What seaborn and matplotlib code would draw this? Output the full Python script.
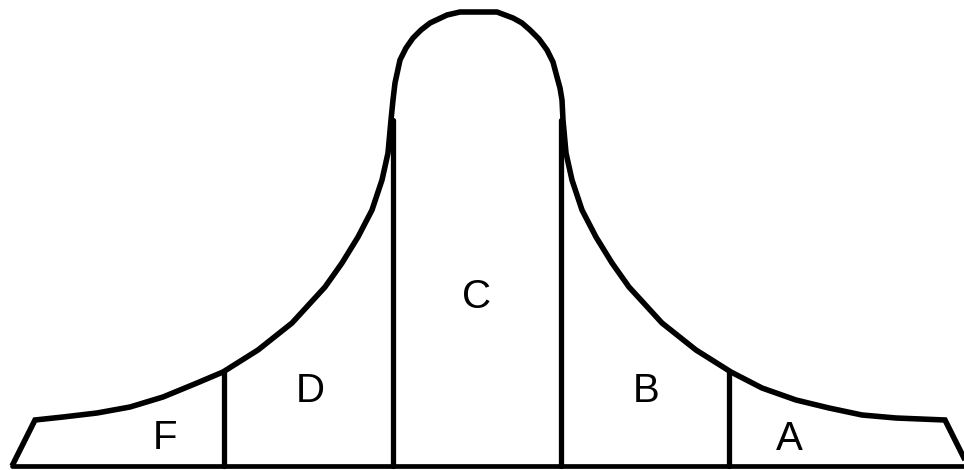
import numpy as np
import pandas as pd
import matplotlib
matplotlib.use("Agg")
import matplotlib.pyplot as plt
import seaborn as sns

sns.set_theme(style="white")
plt.rcParams['font.family'] = ['Liberation Sans', 'DejaVu Sans']

# outline of the curve, x across, height above the base line
left_x = [12, 35, 63, 97, 130, 163, 197, 223, 258, 292, 325, 342, 358, 372, 382, 388, 391]
left_h = [0, 46, 49, 53, 59, 69, 83, 94, 116, 143, 179, 203, 229, 256, 286, 313, 346]

cap_x = [393, 395, 400, 406, 413, 421, 430, 447, 460, 478, 497, 513, 522, 530, 539, 547,
         553, 557, 560, 562, 563]
cap_h = [366, 383, 406, 418, 428, 436, 443, 451, 454, 454, 454, 448, 443, 436, 427, 416,
         404, 389, 378, 366, 346]

right_x = [566, 572, 582, 596, 612, 629, 662, 696, 731, 762, 796, 829, 862, 896, 945, 968]
right_h = [313, 286, 256, 229, 203, 179, 143, 116, 94, 78, 66, 58, 51, 48, 46, 0]

# grade bands
grades = ['F', 'D', 'C', 'B', 'A']
dividers = [224, 393, 561, 729]
label_x = [165, 310, 477, 646, 789]
label_h = [28, 75, 169, 75, 27]

outline = pd.DataFrame({
    'x': left_x + cap_x + right_x,
    'h': left_h + cap_h + right_h,
})

fig = plt.figure(figsize=(9.64, 4.70), dpi=100)
ax = fig.add_axes([0, 0, 1, 1])

sns.lineplot(data=outline, x='x', y='h', sort=False, estimator=None,
             color='black', linewidth=4, ax=ax,
             solid_joinstyle='miter', solid_capstyle='butt')

# base line
sns.lineplot(x=[left_x[0], right_x[-1]], y=[0, 0], sort=False, estimator=None,
             color='black', linewidth=3.4, ax=ax)

# vertical band dividers, up to the curve
curve_x = np.array(left_x + [563] + right_x)
curve_h = np.array(left_h + [346] + right_h)
for d in dividers:
    top = np.interp(d, curve_x, curve_h)
    sns.lineplot(x=[d, d], y=[0, top], sort=False, estimator=None,
                 color='black', linewidth=3.8, ax=ax)

for g, lx, lh in zip(grades, label_x, label_h):
    ax.text(lx, lh, g, ha='center', va='center', fontsize=29, color='black')

ax.set_xlim(0, 964)
ax.set_ylim(-4, 466)
ax.axis('off')

fig.savefig('out.png', dpi=100, facecolor='white')
